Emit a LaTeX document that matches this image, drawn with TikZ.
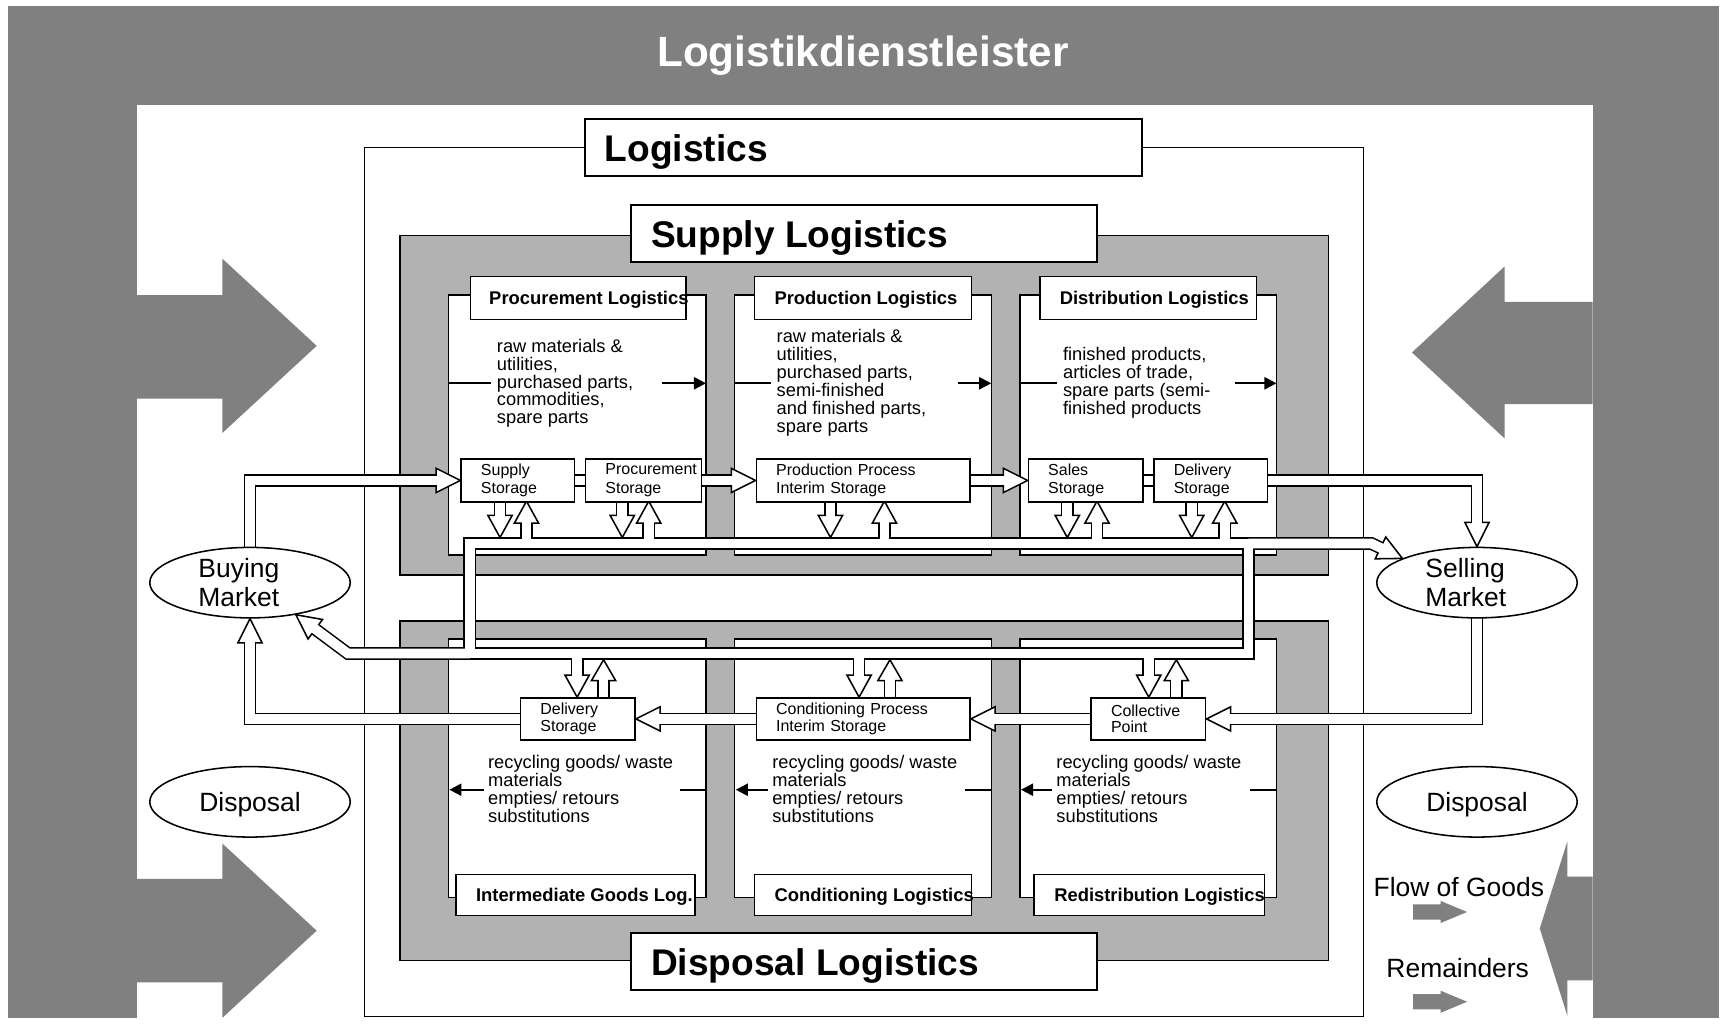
\documentclass[tikz,border=0pt]{standalone}
\usepackage{fontspec}
\setmainfont{Liberation Sans}
\usetikzlibrary{calc,arrows.meta,shapes.geometric}
\pgfdeclarelayer{front}
\pgfsetlayers{main,front}
\definecolor{dgray}{RGB}{128,128,128}
\definecolor{lgray}{RGB}{178,178,178}
\newcommand\myfs[2]{\fontsize{#1}{#2}\selectfont}
\newcommand\fhead[2]{\draw[headst] ($(#1)!11pt!90:(#2)$) -- (#2) -- ($(#1)!11pt!-90:(#2)$) -- cycle;}
\newcommand\chans[2]{%
\draw[#1] (busUL) rectangle (busLR);
\draw[#1] (ssup.east) -- (sproc.west);
\draw[#1] (ssal.east) -- (sdel.west);
\draw[#2] (buy.center) |- (h1);
\draw[#2] (sproc.east) -- (h2);
\draw[#2] (sprod.east) -- (h3);
\draw[#2] (sdel.east) -| (h4);
\draw[#2] (sell.center) |- (h5);
\draw[#2] (lcol.west) -- (h6);
\draw[#2] (lcon.west) -- (h7);
\draw[#2] (ldel.west) -| (h8);
\draw[#2] (busLL) -- (bbr) -- (buyB);
\draw[#2] (busUR) -- (sbr) -- (sellB);
\foreach \x in {454,565,754,969,1082} {\draw[#2] (\x,450) -- (\x,468);}
\foreach \x in {478,589,803,996,1112} {\draw[#2] (\x,493.4) -- (\x,475);}
\foreach \x in {524,780,1043} {\draw[#2] (\x,593.4) -- (\x,613);}
\foreach \x in {548,808,1068} {\draw[#2] (\x,640) -- (\x,618);}
}
\begin{document}
\begin{tikzpicture}[x=1pt,y=-1pt,
  fr/.style={draw=black,line width=1.4pt,fill=white},
  pan/.style={draw=black,line width=1.4pt,fill=lgray},
  chB/.style={draw=black,line width=11.6pt},
  chW/.style={draw=white,line width=8.8pt},
  chWh/.style={chW,shorten >=-2pt},
  headst/.style={draw=black,fill=white,line width=1.4pt,line join=miter},
  stor/.style={draw=black,fill=white,line width=1.4pt,inner xsep=18pt,inner ysep=0pt,align=left,anchor=north west,minimum height=39pt},
  ell/.style={ellipse,draw=black,fill=white,line width=1.4pt,minimum width=182pt,minimum height=64pt,inner sep=0pt},
  etext/.style={font=\myfs{24}{26},align=left,anchor=west,inner sep=0pt},
  bigt/.style={font=\bfseries\myfs{33.7}{36},anchor=base west,inner sep=0pt},
  subt/.style={font=\bfseries\myfs{16.7}{18},anchor=base west,inner sep=0pt},
  body/.style={font=\myfs{16.6}{16.3},align=left,anchor=west,inner sep=0pt},
  blk/.style={line width=1.8pt},
  blkar/.style={line width=1.8pt,-{Triangle[length=11pt,width=11pt]}},
]
\useasboundingbox (0,0) rectangle (1568,929);
\fill[white] (0,0) rectangle (1568,929);

% logistics service provider frame
\fill[dgray] (7,5) rectangle (1561,95);
\fill[dgray] (7,5) rectangle (124,924);
\fill[dgray] (1446,5) rectangle (1561,924);
\fill[dgray] (124,268) -- (202,268) -- (202,235) -- (287.5,314) -- (202,393) -- (202,362) -- (124,362) -- cycle;
\fill[dgray] (124,798) -- (202,798) -- (202,766) -- (287.5,845) -- (202,924) -- (202,892) -- (124,892) -- cycle;
\fill[dgray] (1446,274) -- (1366,274) -- (1366,242) -- (1282,320) -- (1366,398) -- (1366,367) -- (1446,367) -- cycle;
\fill[dgray] (1446,796) -- (1423,796) -- (1423,764) -- (1398,843) -- (1423,922) -- (1423,890) -- (1446,890) -- cycle;
\node[font=\bfseries\myfs{38.4}{40},text=white,anchor=base,inner sep=0pt] (ldl) at (783.5,60.7) {Logistikdienstleister};

% logistics frame
\draw[fr] (331,134) rectangle (1238,923);
\draw[fr] (531,108) rectangle (1037,160);
\node[bigt] (tlog) at (549,147) {Logistics};

% panels
\draw[pan] (363,214) rectangle (1206,522);
\draw[pan] (363,564) rectangle (1206,872);
\draw[fr] (573,186) rectangle (996,238);
\node[bigt] (tsup) at (591,225) {Supply Logistics};
\draw[fr] (573,847) rectangle (996,899);
\node[bigt] (tdis) at (591,886) {Disposal Logistics};

% sub frames
\foreach \a/\b in {407/641,667/900,926/1159}{
  \draw[fr] (\a,268) rectangle (\b,504);
  \draw[fr] (\a,580) rectangle (\b,815);}
\draw[fr] (427,251) rectangle (623,290);
\draw[fr] (685,251) rectangle (882,290);
\draw[fr] (944,251) rectangle (1141,290);
\draw[fr] (414,794) rectangle (631,831);
\draw[fr] (685,794) rectangle (882,831);
\draw[fr] (939,794) rectangle (1148,831);
\node[subt] (tpro) at (444,276.5) {Procurement Logistics};
\node[subt] (tprd) at (703,276.5) {Production Logistics};
\node[subt] (tdst) at (962,276.5) {Distribution Logistics};
\node[subt] (tint) at (432,818.5) {Intermediate Goods Log.};
\node[subt] (tcon) at (703,818.5) {Conditioning Logistics};
\node[subt] (tred) at (957,818.5) {Redistribution Logistics};

% body texts
\node[body] (bpro) at (451,348) {raw materials \&\\utilities,\\purchased parts,\\commodities,\\spare parts};
\node[body] (bprd) at (705,347.5) {raw materials \&\\utilities,\\purchased parts,\\semi-finished\\and finished parts,\\spare parts};
\node[body] (bdst) at (965,347.5) {finished products,\\articles of trade,\\spare parts (semi-\\finished products};
\foreach \x/\n in {443/bint,701/bcon,959/bred}
  {\node[body] (\n) at (\x,716.4) {recycling goods/ waste\\materials\\empties/ retours\\substitutions};}

\draw[blk] (407,348) -- (446,348); \draw[blkar] (601,348) -- (641,348);
\draw[blk] (667,348) -- (700,348); \draw[blkar] (870,348) -- (900,348);
\draw[blk] (926,348) -- (960,348); \draw[blkar] (1121,348) -- (1159,348);
\draw[blk] (617,717) -- (641,717); \draw[blkar] (439,717) -- (408,717);
\draw[blk] (876,717) -- (900,717); \draw[blkar] (697,717) -- (668,717);
\draw[blk] (1135,717) -- (1159,717); \draw[blkar] (955,717) -- (927,717);

% storages and markets (front layer)
\begin{pgfonlayer}{front}
\node[stor,minimum width=103pt,text width=67pt,font=\myfs{14.5}{17}] (ssup) at (418,416) {Supply\\Storage};
\node[stor,minimum width=105pt,text width=69pt,font=\myfs{14.5}{17}] (sproc) at (531,416) {\mbox{Procurement}\\Storage};
\node[stor,minimum width=194pt,text width=158pt,font=\myfs{14.5}{17}] (sprod) at (686,416) {Production Process\\Interim Storage};
\node[stor,minimum width=104pt,text width=68pt,font=\myfs{14.5}{17}] (ssal) at (933,416) {Sales\\Storage};
\node[stor,minimum width=103pt,text width=67pt,font=\myfs{14.5}{17}] (sdel) at (1047,416) {Delivery\\Storage};
\node[stor,minimum height=38pt,minimum width=104pt,text width=68pt,font=\myfs{14.5}{15}] (ldel) at (472,633) {Delivery\\Storage};
\node[stor,minimum height=38pt,minimum width=194pt,text width=158pt,font=\myfs{14.5}{15}] (lcon) at (686,633) {Conditioning Process\\Interim Storage};
\node[stor,minimum height=38pt,minimum width=104pt,text width=68pt,font=\myfs{14.5}{15}] (lcol) at (990,633) {Collective\\Point};
\node[ell] (buy) at (227,529) {};
\node[ell] (sell) at (1341,529) {};
\node[ell] (dis1) at (227,728) {};
\node[ell] (dis2) at (1341,728) {};
\node[etext] (buyt) at (180,529) {Buying\\Market};
\node[etext] (sellt) at (1294,529) {Selling\\Market};
\node[font=\myfs{24}{26},anchor=base,inner sep=0pt] (dis1t) at (227,736.6) {Disposal};
\node[font=\myfs{24}{26},anchor=base,inner sep=0pt] (dis2t) at (1341,736.6) {Disposal};
\end{pgfonlayer}

% channel geometry
\coordinate (busUL) at (426.5,493.4);
\coordinate (busLR) at (1133.5,593.4);
\coordinate (busLL) at (426.5,593.4);
\coordinate (busUR) at (1133.5,493.4);
\coordinate (bbr) at (316,593.4);
\coordinate (sbr) at (1245,493.4);
\coordinate (buyT) at (buy.-35);
\coordinate (sellT) at (sell.162);
\coordinate (buyB) at ($(buyT)!22pt!(bbr)$);
\coordinate (sellB) at ($(sellT)!22pt!(sbr)$);
\coordinate (h1) at ($(ssup.west)+(-22,0)$);
\coordinate (h2) at ($(sprod.west)+(-22,0)$);
\coordinate (h3) at ($(ssal.west)+(-22,0)$);
\coordinate (h4) at ($(sell.north)+(0,-22)$);
\coordinate (h5) at ($(lcol.east)+(22,0)$);
\coordinate (h6) at ($(lcon.east)+(22,0)$);
\coordinate (h7) at ($(ldel.east)+(22,0)$);
\coordinate (h8) at ($(buy.south)+(0,22)$);

\chans{chB}{chB}
\fhead{h1}{ssup.west}
\fhead{h2}{sprod.west}
\fhead{h3}{ssal.west}
\fhead{h4}{sell.north}
\fhead{h5}{lcol.east}
\fhead{h6}{lcon.east}
\fhead{h7}{ldel.east}
\fhead{h8}{buy.south}
\fhead{buyB}{buyT}
\fhead{sellB}{sellT}
\foreach \x in {454,565,754,969,1082} {\fhead{\x,468}{\x,488}}
\foreach \x in {478,589,803,996,1112} {\fhead{\x,475}{\x,455}}
\foreach \x in {524,780,1043} {\fhead{\x,613}{\x,633}}
\foreach \x in {548,808,1068} {\fhead{\x,618}{\x,599}}
\chans{chW}{chWh}

% legend
\node[font=\myfs{24}{26},anchor=base,inner sep=0pt] (lgf) at (1324.5,813.6) {Flow of Goods};
\node[font=\myfs{24}{26},anchor=base,inner sep=0pt] (lgr) at (1323.5,887.6) {Remainders};
\fill[dgray] (1283,821) -- (1308,821) -- (1308,818) -- (1332,828) -- (1308,838) -- (1308,835) -- (1283,835) -- cycle;
\fill[dgray] (1283,902.5) -- (1308,902.5) -- (1308,899.5) -- (1332,909.5) -- (1308,919.5) -- (1308,916.5) -- (1283,916.5) -- cycle;
\end{tikzpicture}
\end{document}
